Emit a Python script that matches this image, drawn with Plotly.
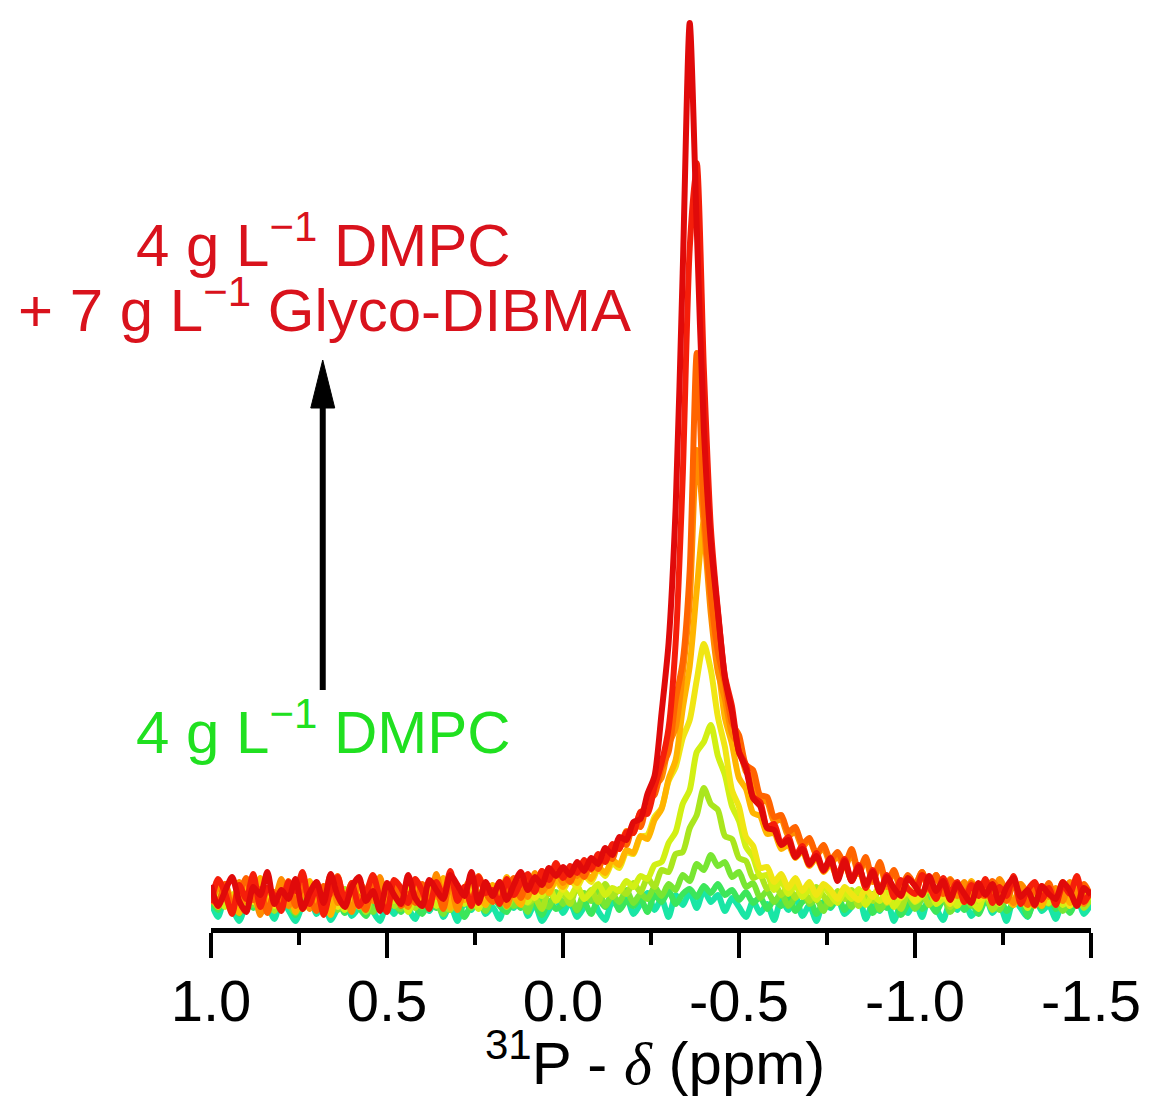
import plotly.graph_objects as go

# chemical shift axis (ppm), sampled every 0.02 ppm from 1.0 to -1.5
ppm = [round(1.0 - 0.02 * i, 2) for i in range(126)]

tick_vals = [1.0, 0.5, 0.0, -0.5, -1.0, -1.5]
tick_labels = ["1.0", "0.5", "0.0", "-0.5", "-1.0", "-1.5"]
minor_vals = [0.75, 0.25, -0.25, -0.75, -1.25]

# intensities (arbitrary units), green (pure DMPC) -> red (+ Glyco-DIBMA)
s01 = [26, 11, 30, 20, 7, 24, 33, 15, 21, 9,
       29, 18, 7, 23, 32, 14, 26, 8, 20, 30,
       12, 21, 35, 17, 7, 24, 14, 29, 20, 9,
       27, 17, 33, 11, 23, 7, 26, 18, 32, 14,
       21, 9, 29, 20, 35, 12, 24, 7, 18, 30,
       15, 26, 11, 21, 33, 17, 8, 27, 20, 32,
       14, 24, 35, 18, 29, 11, 33, 23, 36, 20,
       38, 26, 33, 17, 30, 21, 11, 27, 15, 24,
       8, 29, 18, 32, 12, 23, 7, 26, 20, 30,
       14, 21, 33, 9, 24, 17, 29, 7, 23, 15,
       27, 11, 32, 20, 8, 26, 18, 30, 12, 21,
       33, 15, 24, 7, 29, 20, 11, 32, 17, 23,
       9, 27, 18, 30, 14, 24]
s02 = [27, 18, 31, 22, 14, 29, 20, 33, 16, 25,
       19, 30, 13, 26, 22, 35, 17, 24, 29, 15,
       28, 21, 12, 27, 33, 19, 25, 16, 30, 22,
       14, 26, 20, 32, 18, 27, 11, 24, 29, 17,
       31, 22, 16, 28, 20, 34, 25, 13, 27, 19,
       24, 32, 17, 26, 14, 29, 21, 35, 18, 27,
       22, 30, 16, 33, 26, 37, 24, 34, 39, 31,
       42, 35, 44, 33, 38, 28, 36, 25, 31, 19,
       28, 22, 33, 17, 26, 30, 14, 25, 21, 32,
       18, 27, 23, 34, 15, 26, 20, 29, 13, 24,
       30, 19, 25, 16, 28, 22, 33, 18, 26, 14,
       27, 21, 31, 17, 24, 29, 12, 26, 20, 33,
       19, 25, 15, 28, 22, 30]
s03 = [30, 21, 34, 25, 17, 31, 23, 36, 19, 28,
       33, 24, 15, 29, 37, 20, 27, 32, 18, 26,
       35, 22, 30, 16, 28, 38, 24, 19, 33, 27,
       21, 36, 26, 14, 31, 24, 35, 20, 29, 17,
       32, 25, 38, 22, 28, 16, 34, 27, 21, 36,
       24, 31, 18, 35, 27, 40, 22, 33, 26, 38,
       25, 34, 29, 41, 32, 44, 38, 53, 47, 64,
       58, 73, 62, 66, 51, 56, 41, 45, 30, 37,
       26, 35, 22, 31, 38, 24, 29, 17, 33, 27,
       36, 21, 30, 25, 34, 18, 28, 37, 23, 31,
       19, 29, 35, 24, 31, 16, 27, 33, 22, 30,
       36, 25, 18, 32, 27, 38, 21, 29, 34, 24,
       31, 17, 28, 35, 23, 30]
s04 = [31, 22, 36, 26, 19, 33, 40, 24, 29, 17,
       35, 27, 21, 38, 25, 31, 18, 34, 28, 39,
       23, 30, 16, 33, 27, 37, 22, 29, 35, 20,
       32, 26, 39, 24, 18, 34, 29, 41, 23, 31,
       27, 36, 21, 33, 40, 25, 30, 19, 37, 28,
       35, 24, 41, 29, 38, 26, 44, 31, 39, 34,
       45, 36, 50, 41, 58, 56, 74, 76, 100, 113,
       140, 124, 118, 92, 89, 70, 67, 50, 53, 39,
       46, 33, 42, 30, 39, 27, 41, 32, 24, 37,
       29, 38, 22, 34, 27, 40, 25, 31, 19, 35,
       28, 36, 23, 32, 39, 21, 30, 26, 37, 24,
       33, 18, 29, 38, 25, 31, 22, 35, 27, 40,
       23, 32, 26, 36, 20, 30]
s05 = [26, 35, 21, 32, 38, 24, 30, 17, 34, 27,
       22, 37, 29, 19, 33, 26, 40, 23, 31, 18,
       36, 28, 24, 39, 20, 32, 27, 35, 16, 30,
       25, 38, 22, 34, 29, 41, 24, 33, 19, 36,
       28, 35, 23, 40, 30, 26, 37, 32, 43, 27,
       38, 31, 42, 29, 36, 44, 33, 40, 37, 47,
       41, 52, 49, 63, 66, 85, 96, 124, 138, 176,
       186, 203, 172, 153, 122, 107, 81, 71, 52, 53,
       38, 47, 34, 43, 31, 39, 28, 41, 33, 25,
       36, 29, 39, 23, 33, 27, 37, 21, 31, 35,
       26, 32, 40, 24, 30, 37, 22, 34, 28, 19,
       35, 30, 24, 38, 27, 33, 20, 36, 29, 25,
       39, 23, 31, 27, 36, 28]
s06 = [33, 24, 38, 28, 20, 35, 26, 41, 30, 22,
       37, 27, 34, 19, 31, 39, 25, 33, 21, 36,
       29, 40, 24, 32, 37, 22, 35, 28, 42, 26,
       34, 21, 38, 30, 25, 41, 29, 36, 23, 39,
       31, 43, 28, 37, 33, 45, 30, 41, 36, 47,
       38, 49, 41, 53, 46, 59, 52, 65, 60, 76,
       74, 91, 93, 111, 120, 147, 161, 190, 208, 248,
       284, 258, 211, 181, 138, 121, 91, 82, 60, 61,
       46, 54, 40, 50, 37, 46, 33, 44, 38, 29,
       41, 34, 28, 39, 31, 43, 26, 36, 30, 38,
       27, 35, 40, 29, 33, 24, 37, 31, 42, 28,
       34, 26, 39, 30, 23, 36, 32, 41, 25, 33,
       29, 37, 22, 34, 31, 38]
s07 = [36, 21, 44, 26, 15, 39, 29, 50, 20, 34,
       24, 42, 16, 37, 47, 23, 32, 13, 40, 28,
       45, 21, 36, 28, 50, 18, 39, 31, 23, 44,
       25, 39, 31, 50, 20, 41, 28, 47, 34, 23,
       43, 28, 51, 33, 23, 46, 38, 55, 35, 49,
       41, 52, 45, 57, 49, 61, 55, 68, 63, 78,
       75, 92, 89, 108, 119, 149, 168, 219, 262, 338,
       406, 326, 266, 210, 184, 150, 139, 115, 112, 94,
       95, 79, 83, 70, 77, 62, 70, 56, 64, 50,
       64, 47, 60, 40, 55, 37, 50, 32, 47, 40,
       34, 52, 41, 29, 49, 37, 44, 26, 47, 33,
       42, 26, 47, 36, 23, 44, 33, 41, 22, 38,
       30, 46, 25, 40, 32, 37]
s08 = [24, 41, 32, 17, 46, 27, 37, 13, 40, 29,
       49, 22, 35, 43, 19, 38, 30, 53, 25, 33,
       16, 45, 37, 27, 51, 22, 41, 32, 21, 48,
       34, 25, 54, 30, 42, 18, 39, 49, 28, 38,
       28, 46, 22, 41, 50, 31, 55, 36, 47, 60,
       45, 57, 52, 63, 58, 72, 68, 83, 79, 97,
       95, 116, 119, 141, 150, 183, 200, 254, 326, 478,
       402, 314, 256, 229, 194, 182, 156, 150, 128, 126,
       106, 109, 92, 96, 81, 88, 73, 80, 64, 72,
       60, 75, 54, 68, 46, 63, 41, 57, 38, 52,
       43, 56, 38, 53, 35, 49, 32, 46, 29, 43,
       41, 30, 49, 36, 25, 44, 34, 22, 42, 31,
       40, 27, 46, 33, 24, 38]
s09 = [38, 25, 44, 20, 33, 50, 28, 39, 15, 36,
       26, 47, 22, 41, 31, 17, 42, 34, 52, 23,
       39, 30, 18, 49, 26, 38, 44, 22, 34, 25,
       44, 27, 38, 19, 49, 32, 41, 25, 52, 35,
       26, 44, 36, 50, 30, 47, 39, 57, 42, 54,
       55, 46, 60, 51, 67, 59, 75, 69, 88, 83,
       104, 101, 127, 133, 160, 176, 228, 266, 358, 575,
       418, 333, 276, 245, 205, 193, 163, 158, 133, 131,
       111, 113, 96, 101, 84, 90, 74, 83, 68, 76,
       64, 79, 56, 71, 48, 66, 44, 58, 40, 53,
       43, 56, 39, 53, 34, 48, 40, 31, 45, 35,
       32, 47, 37, 27, 43, 34, 23, 40, 31, 45,
       28, 40, 36, 23, 44, 31]
s10 = [25, 49, 35, 14, 43, 29, 54, 21, 40, 32,
       17, 46, 37, 56, 24, 41, 13, 38, 51, 27,
       45, 22, 34, 53, 30, 16, 48, 40, 25, 49,
       37, 19, 46, 32, 57, 27, 41, 22, 51, 35,
       38, 24, 49, 33, 45, 54, 36, 57, 48, 65,
       50, 62, 55, 68, 59, 74, 66, 84, 79, 96,
       95, 116, 114, 141, 165, 200, 285, 450, 680, 765,
       560, 400, 318, 252, 222, 176, 163, 131, 126, 101,
       104, 84, 91, 72, 82, 63, 75, 57, 68, 52,
       69, 47, 63, 40, 58, 36, 53, 31, 48, 39,
       34, 53, 42, 29, 50, 35, 46, 26, 43, 32,
       49, 25, 41, 32, 52, 24, 38, 46, 28, 40,
       23, 44, 34, 52, 26, 38]
s11 = [43, 22, 37, 51, 27, 16, 41, 33, 56, 24,
       38, 29, 49, 19, 35, 46, 25, 54, 32, 21,
       41, 51, 27, 37, 17, 45, 33, 24, 53, 30,
       22, 48, 38, 29, 53, 43, 32, 56, 25, 46,
       32, 46, 28, 43, 56, 38, 51, 43, 60, 52,
       61, 53, 66, 57, 70, 64, 80, 73, 91, 88,
       106, 109, 134, 152, 215, 285, 420, 655, 905, 700,
       500, 385, 316, 250, 216, 176, 159, 130, 122, 100,
       98, 83, 88, 71, 79, 64, 72, 58, 70, 47,
       67, 47, 61, 43, 56, 36, 51, 40, 32, 50,
       42, 33, 52, 37, 47, 28, 44, 34, 25, 45,
       33, 44, 25, 41, 50, 31, 38, 23, 42, 34,
       29, 46, 37, 22, 40, 33]

series = [s01, s02, s03, s04, s05, s06, s07, s08, s09, s10, s11]
colors = ["#19e6a5", "#3ce65a", "#78e632", "#aae61e", "#d2f014", "#f0e614",
          "#ffb400", "#ff8c00", "#ff6400", "#f51e0a", "#e00a0a"]

FONT = "Arial, 'Liberation Sans', sans-serif"

fig = go.Figure()
for ys, c in zip(series, colors):
    fig.add_trace(go.Scatter(x=ppm, y=ys, mode="lines",
                             line=dict(color=c, width=6, shape="spline", smoothing=0.7),
                             hoverinfo="skip", showlegend=False))

fig.update_layout(
    width=1151, height=1103, autosize=False,
    margin=dict(l=211, r=58, t=10, b=175),
    paper_bgcolor="white", plot_bgcolor="white",
    font=dict(family=FONT, color="black"),
    showlegend=False,
    xaxis=dict(
        range=[1.0, -1.5], showgrid=False, zeroline=False,
        showline=True, linecolor="black", linewidth=5,
        ticks="outside", ticklen=25, tickwidth=4, tickcolor="black",
        tickvals=tick_vals, ticktext=tick_labels,
        tickfont=dict(size=58, family=FONT, color="black"),
        ticklabelstandoff=-7,
        minor=dict(tickvals=minor_vals, ticks="outside", ticklen=12,
                   tickwidth=4, tickcolor="black"),
    ),
    yaxis=dict(range=[0, 918], visible=False, showgrid=False, zeroline=False),
)

def px_x(p):
    return (p - 211) / 882.0

def px_y(p):
    return (928 - p) / 918.0

red = "#d9121c"
green = "#20e020"
fig.add_annotation(x=px_x(324), y=px_y(241), xref="paper", yref="paper",
                   text="4 g L<sup>−1</sup> DMPC", showarrow=False,
                   font=dict(size=60, color=red, family=FONT), xanchor="center", yanchor="middle")
fig.add_annotation(x=px_x(325), y=px_y(306), xref="paper", yref="paper",
                   text="+ 7 g L<sup>−1</sup> Glyco-DIBMA", showarrow=False,
                   font=dict(size=60, color=red, family=FONT), xanchor="center", yanchor="middle")
fig.add_annotation(x=px_x(324), y=px_y(728), xref="paper", yref="paper",
                   text="4 g L<sup>−1</sup> DMPC", showarrow=False,
                   font=dict(size=60, color=green, family=FONT), xanchor="center", yanchor="middle")
fig.add_annotation(x=px_x(656), y=px_y(1059), xref="paper", yref="paper",
                   text="<sup>31</sup>P - <span style=\"font-family:'Liberation Serif', serif\"><i>δ</i></span> (ppm)",
                   showarrow=False,
                   font=dict(size=60, color="black", family=FONT), xanchor="center", yanchor="middle")

# arrow
fig.add_shape(type="line", xref="paper", yref="paper",
              x0=px_x(323), x1=px_x(323), y0=px_y(690), y1=px_y(402),
              line=dict(color="black", width=6))
fig.add_shape(type="path", xref="paper", yref="paper",
              path=f"M {px_x(311)} {px_y(408)} L {px_x(335)} {px_y(408)} L {px_x(323)} {px_y(360)} Z",
              fillcolor="black", line=dict(color="black", width=1))

fig.write_html("out.html", config={"displayModeBar": False},
               post_script="document.body.style.margin='0';document.body.style.padding='0';document.body.style.overflow='hidden';")
